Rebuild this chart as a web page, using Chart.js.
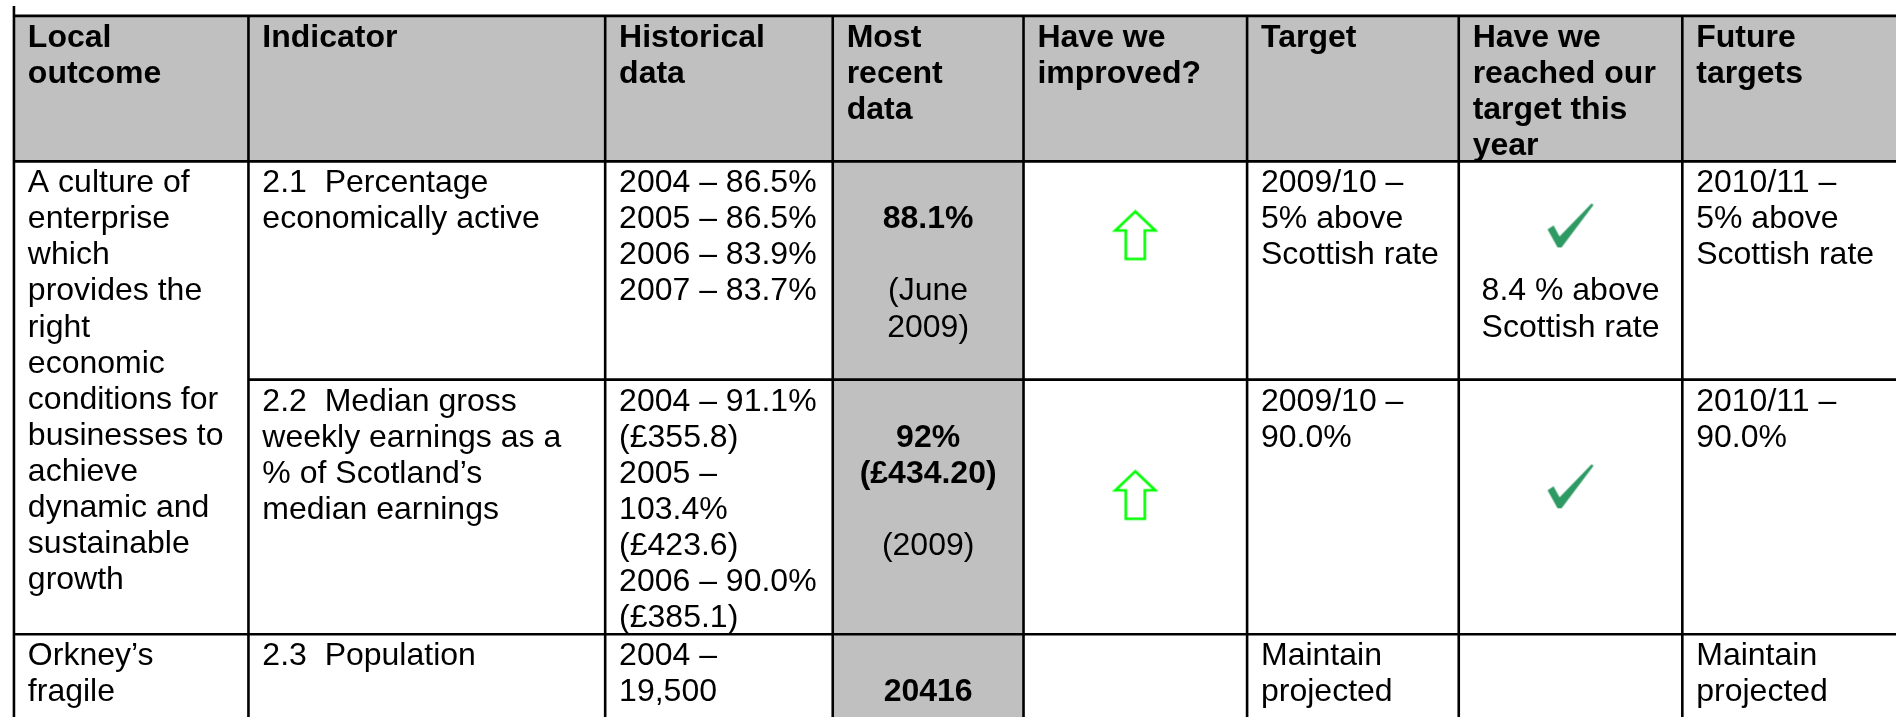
<!DOCTYPE html>
<html lang="en">
<head>
  <meta charset="UTF-8" />
  <title>Local outcomes – indicator table</title>
  <script src="https://cdn.jsdelivr.net/npm/chart.js@4.4.0/dist/chart.umd.min.js"></script>
  <style>
    * { margin: 0; padding: 0; box-sizing: border-box; }
    body { background: #ffffff; width: 1896px; height: 717px; overflow: hidden; }
    .chart-wrapper { position: relative; width: 1896px; height: 717px; }
  </style>
</head>
<body>
  <div class="chart-wrapper"><canvas id="tableChart"></canvas></div>

  <script>
    // ==== Table content ====
    const headers = [
      ['Local', 'outcome'],
      ['Indicator'],
      ['Historical', 'data'],
      ['Most', 'recent', 'data'],
      ['Have we', 'improved?'],
      ['Target'],
      ['Have we', 'reached our', 'target this', 'year'],
      ['Future', 'targets']
    ];
    // local outcomes and how many indicator rows each one covers
    const outcomes = [
      ['A culture of', 'enterprise', 'which', 'provides the', 'right', 'economic',
       'conditions for', 'businesses to', 'achieve', 'dynamic and', 'sustainable', 'growth'],
      ['Orkney’s', 'fragile']
    ];
    const outcomeSpans = [2, 1];
    const indicators = [
      ['2.1  Percentage', 'economically active'],
      ['2.2  Median gross', 'weekly earnings as a', '% of Scotland’s', 'median earnings'],
      ['2.3  Population']
    ];
    const historical = [
      ['2004 – 86.5%', '2005 – 86.5%', '2006 – 83.9%', '2007 – 83.7%'],
      ['2004 – 91.1%', '(£355.8)', '2005 –', '103.4%', '(£423.6)', '2006 – 90.0%', '(£385.1)'],
      ['2004 –', '19,500']
    ];
    const recentValues = [['88.1%'], ['92%', '(£434.20)'], ['20416']];
    const recentDates = [['(June', '2009)'], ['(2009)'], []];
    const improved = ['up', 'up', null];
    const targets = [
      ['2009/10 –', '5% above', 'Scottish rate'],
      ['2009/10 –', '90.0%'],
      ['Maintain', 'projected']
    ];
    const reached = [true, true, null];
    const reachedNotes = [['8.4 % above', 'Scottish rate'], [], []];
    const futureTargets = [
      ['2010/11 –', '5% above', 'Scottish rate'],
      ['2010/11 –', '90.0%'],
      ['Maintain', 'projected']
    ];

    // ==== Layout (page units = pixels) ====
    const colEdges = [8, 244, 603, 832, 1024, 1249, 1462, 1687, 1930];
    const rowEdges = [10, 158, 380, 639, 780];
    const LINE = 36.7;        // line pitch
    const PAD_X = 14;
    const PAD_TOP = 2;
    const BASE = 29.4;        // baseline offset inside a line
    const arrowLine = [2.0, 3.15];   // vertical place of the arrow, in lines
    const tickLine = [1.72, 2.9];    // vertical place of the tick, in lines
    const noteLine = 3;              // first line of the reached note
    const GRAY = '#c0c0c0';
    const FONT = '"Liberation Sans", Arial, Helvetica, sans-serif';

    const colMid = c => (colEdges[c] + colEdges[c + 1]) / 2;

    // ==== Mark images ====
    function makeArrow() {
      const cv = document.createElement('canvas');
      cv.width = 46; cv.height = 52;
      const c = cv.getContext('2d');
      c.beginPath();
      c.moveTo(23, 2);
      c.lineTo(43, 21);
      c.lineTo(32.5, 21);
      c.lineTo(32.5, 49.5);
      c.lineTo(13.5, 49.5);
      c.lineTo(13.5, 21);
      c.lineTo(3, 21);
      c.closePath();
      c.fillStyle = '#ffffff';
      c.fill();
      c.lineWidth = 2.6;
      c.strokeStyle = '#00ff00';
      c.stroke();
      return cv;
    }
    function makeTick() {
      const cv = document.createElement('canvas');
      cv.width = 48; cv.height = 46;
      const c = cv.getContext('2d');
      c.translate(1, 1);
      c.beginPath();
      c.moveTo(0, 26);
      c.lineTo(6, 22);
      c.lineTo(12, 33);
      c.lineTo(44, 0);
      c.lineTo(46, 1.5);
      c.lineTo(14, 44);
      c.lineTo(10, 44);
      c.closePath();
      c.fillStyle = '#2e9a63';
      c.fill();
      return cv;
    }

    // points for the status marks, placed through the chart scales
    const arrowPoints = [];
    improved.forEach((v, i) => {
      if (v) arrowPoints.push({ x: colMid(4), y: rowEdges[i + 1] + PAD_TOP + arrowLine[i] * LINE });
    });
    const tickPoints = [];
    reached.forEach((v, i) => {
      if (v) tickPoints.push({ x: colMid(6), y: rowEdges[i + 1] + PAD_TOP + tickLine[i] * LINE });
    });

    // ==== Plugin that draws the table grid and text ====
    const tablePlugin = {
      id: 'tableGrid',
      beforeDatasetsDraw(chart) {
        const { ctx, scales: { x, y } } = chart;
        const X = v => x.getPixelForValue(v);
        const Y = v => y.getPixelForValue(v);
        const last = colEdges.length - 1;

        function lines(list, col, row, opts = {}) {
          const start = opts.start || 0;
          ctx.font = (opts.bold ? 'bold ' : '') + '32px ' + FONT;
          ctx.textAlign = opts.center ? 'center' : 'left';
          ctx.textBaseline = 'alphabetic';
          ctx.fillStyle = '#000000';
          const px = opts.center ? X(colMid(col)) : X(colEdges[col] + PAD_X);
          list.forEach((t, k) => {
            if (!t) return;
            ctx.fillText(t, px, Y(rowEdges[row] + PAD_TOP + (start + k) * LINE + BASE));
          });
        }

        ctx.save();
        // fills
        ctx.fillStyle = GRAY;
        ctx.fillRect(X(colEdges[0]), Y(rowEdges[0]), X(colEdges[last]) - X(colEdges[0]), Y(rowEdges[1]) - Y(rowEdges[0]));
        ctx.fillRect(X(colEdges[3]), Y(rowEdges[1]), X(colEdges[4]) - X(colEdges[3]), Y(rowEdges[4]) - Y(rowEdges[1]));

        // header
        headers.forEach((h, c) => lines(h, c, 0, { bold: true }));

        // body
        let r = 1;
        outcomes.forEach((o, i) => { lines(o, 0, r); r += outcomeSpans[i]; });
        indicators.forEach((t, i) => lines(t, 1, i + 1));
        historical.forEach((t, i) => lines(t, 2, i + 1));
        recentValues.forEach((t, i) => {
          lines(t, 3, i + 1, { center: true, bold: true, start: 1 });
          lines(recentDates[i], 3, i + 1, { center: true, start: t.length + 2 });
        });
        targets.forEach((t, i) => lines(t, 5, i + 1));
        reachedNotes.forEach((t, i) => lines(t, 6, i + 1, { center: true, start: noteLine }));
        futureTargets.forEach((t, i) => lines(t, 7, i + 1));

        // borders
        ctx.strokeStyle = '#000000';
        ctx.lineWidth = 2.6;
        ctx.beginPath();
        // outer left border runs the full height
        ctx.moveTo(X(colEdges[0]), Y(0));
        ctx.lineTo(X(colEdges[0]), Y(rowEdges[rowEdges.length - 1]));
        for (let c = 1; c < last; c++) {
          ctx.moveTo(X(colEdges[c]), Y(rowEdges[0]));
          ctx.lineTo(X(colEdges[c]), Y(rowEdges[rowEdges.length - 1]));
        }
        ctx.moveTo(X(colEdges[0]), Y(rowEdges[0]));
        ctx.lineTo(X(colEdges[last]), Y(rowEdges[0]));
        // horizontal rules, skipping the merged outcome cell
        let spanEnd = 1;
        const fullRows = new Set([1]);
        outcomeSpans.forEach(s => { spanEnd += s; fullRows.add(spanEnd); });
        for (let k = 1; k < rowEdges.length - 1; k++) {
          const from = fullRows.has(k) ? colEdges[0] : colEdges[1];
          ctx.moveTo(X(from), Y(rowEdges[k]));
          ctx.lineTo(X(colEdges[last]), Y(rowEdges[k]));
        }
        ctx.stroke();
        ctx.restore();
      }
    };

    const ctxTable = document.getElementById('tableChart').getContext('2d');
    const tableChart = new Chart(ctxTable, {
      type: 'scatter',
      data: {
        datasets: [
          { label: 'Improved', data: arrowPoints, pointStyle: makeArrow(), pointRadius: 5, pointHoverRadius: 5 },
          { label: 'Target reached', data: tickPoints, pointStyle: makeTick(), pointRadius: 5, pointHoverRadius: 5 }
        ]
      },
      options: {
        responsive: true,
        maintainAspectRatio: false,
        animation: false,
        events: [],
        layout: { padding: 0 },
        plugins: { legend: { display: false }, tooltip: { enabled: false } },
        scales: {
          x: { type: 'linear', min: 0, max: 1896, display: false },
          y: { type: 'linear', min: 0, max: 717, reverse: true, display: false }
        }
      },
      plugins: [tablePlugin]
    });
  </script>
</body>
</html>
